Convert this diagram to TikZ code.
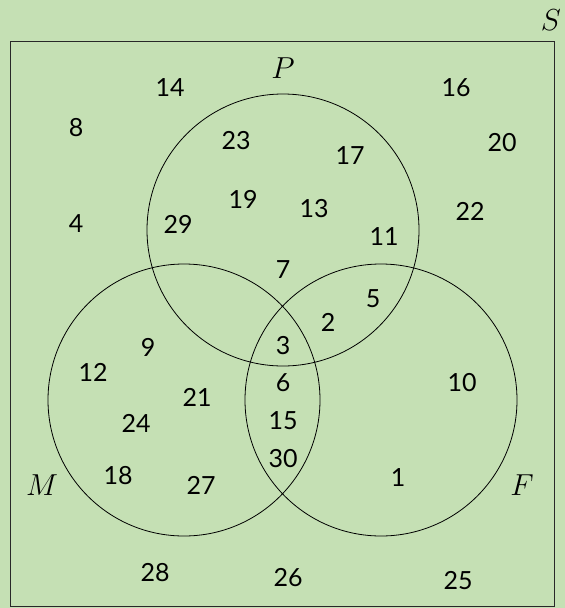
\documentclass[tikz,border=0pt]{standalone}
\usepackage{amsmath,amssymb}
\usepackage{fontspec}
\usepackage{tikz}
\usetikzlibrary{positioning}
\newfontfamily\numfont{Lato}
\definecolor{leaf}{RGB}{197,224,180}
\definecolor{ink}{RGB}{40,40,40}
\newcommand{\setname}[1]{\scalebox{1.22}{$#1$}}
\tikzset{
  setcirc/.style={draw=black,line width=0.8pt},
  univ/.style={draw=ink,line width=0.9pt,fill=leaf},
  elem/.style={font=\numfont\fontsize{25}{28}\selectfont,inner sep=0pt},
  setlab/.style={font=\fontsize{24.88}{30}\selectfont,inner sep=0pt},
}

\begin{document}
\begin{tikzpicture}[x=1pt,y=-1pt]
  % page and universe
  \fill[leaf] (0,0) rectangle (565,608);
  \useasboundingbox (0,0) rectangle (565,608);
  \draw[univ] (10,41) rectangle (554,606);
  \node[setlab] (lS) at (551,20) {\setname{S}};
  % the three sets
  \coordinate (cP) at (283,230);
  \coordinate (cM) at (184,400);
  \coordinate (cF) at (381,400);
  \draw[setcirc] (cP) circle[radius=136pt];
  \draw[setcirc] (cM) circle[radius=136pt];
  \draw[setcirc] (cF) circle[radius=136pt];
  \node[setlab] (lP) at (283,68) {\setname{P}};
  \node[setlab] (lM) at (42,485) {\setname{M}};
  \node[setlab] (lF) at (522,485) {\setname{F}};
  % elements
  \foreach \v/\x/\y in {14/170/88, 8/76/128, 4/76/224, 16/456/88, 20/502/143,
      22/470/211, 23/236/141, 17/350/156, 19/243/199, 13/314/209, 29/178/224,
      11/384/237, 7/283/270, 5/373/299, 2/328/322, 3/283/346, 9/148/347,
      12/93/372, 21/197/397, 24/136/423, 18/118/476, 27/201/485, 6/283/383,
      15/283/421, 30/283/459, 10/462/383, 1/398/478, 28/155/573, 26/288/578,
      25/458/581} {
    \node[elem] (n\v) at (\x,\y) {\v};
  }
\end{tikzpicture}
\end{document}
